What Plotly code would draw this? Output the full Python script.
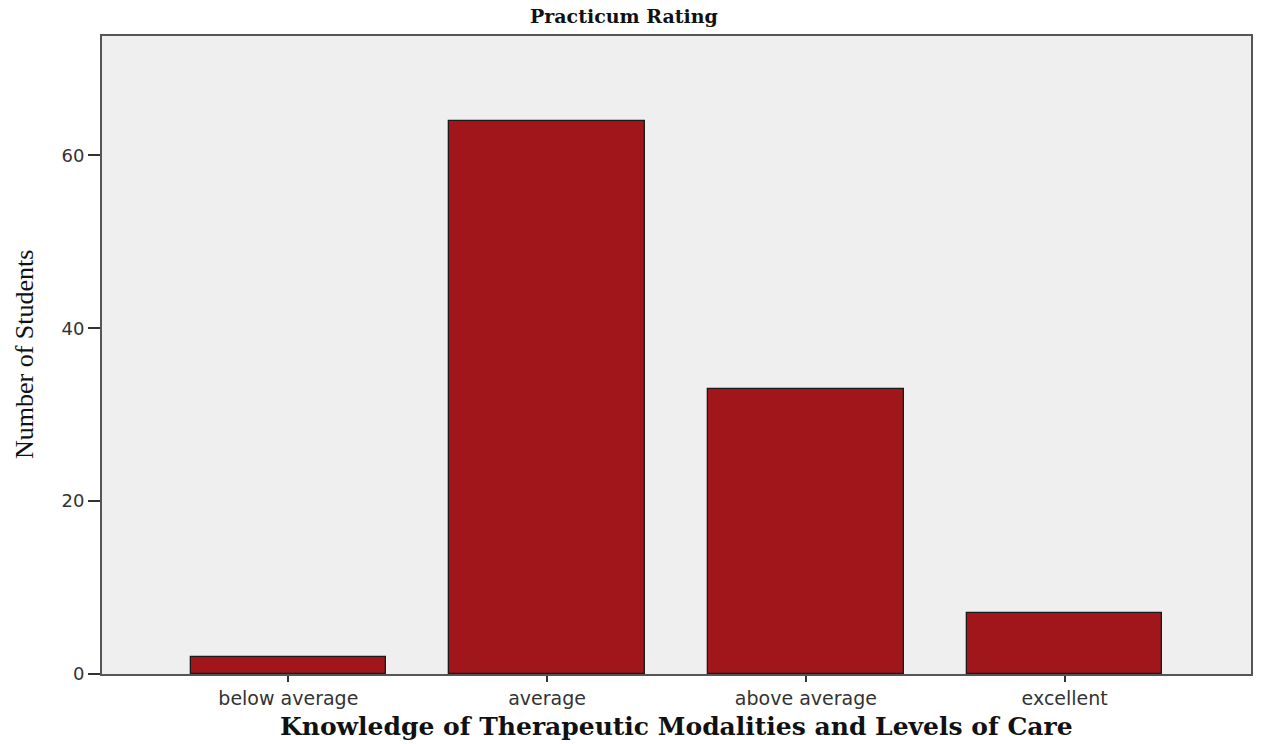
import plotly.graph_objects as go

categories = ["below average", "average", "above average", "excellent"]
counts = [2, 64, 33, 7]
y_ticks = [0, 20, 40, 60]

fig = go.Figure()
fig.add_trace(go.Bar(
    x=list(range(len(categories))),
    y=counts,
    width=0.755,
    marker=dict(color="#A0161B", line=dict(color="#1a1a1a", width=1.3)),
))

fig.update_layout(
    width=1261, height=744,
    margin=dict(l=102, r=8, t=36, b=70),
    paper_bgcolor="white",
    plot_bgcolor="#EFEFEF",
    showlegend=False,
    bargap=0,
    annotations=[
        dict(text="<b>Practicum Rating</b>", xref="paper", yref="paper",
             x=0.454, y=1, xanchor="center", yanchor="bottom", yshift=7,
             showarrow=False, font=dict(family="DejaVu Serif", size=19, color="#111")),
        dict(text="<b>Knowledge of Therapeutic Modalities and Levels of Care</b>",
             xref="paper", yref="paper", x=0.5, y=0, xanchor="center", yanchor="middle",
             yshift=-52, showarrow=False,
             font=dict(family="DejaVu Serif", size=25, color="#111")),
        dict(text="Number of Students", xref="paper", yref="paper", x=0, y=0.5,
             xanchor="center", yanchor="middle", xshift=-78, textangle=-90,
             showarrow=False, font=dict(family="Liberation Serif", size=26, color="#111")),
    ],
)

fig.update_xaxes(
    range=[-0.72, 3.72],
    tickmode="array", tickvals=list(range(len(categories))), ticktext=categories,
    ticks="outside", ticklen=6, tickwidth=2, tickcolor="#333",
    showline=True, linecolor="#555", linewidth=2, mirror=True,
    showgrid=False, zeroline=False,
    tickfont=dict(family="DejaVu Sans", size=19, color="#333"),
)
fig.update_yaxes(
    range=[0, 73.8],
    tickmode="array", tickvals=y_ticks,
    ticks="outside", ticklen=12, tickwidth=2, tickcolor="#333",
    showline=True, linecolor="#555", linewidth=2, mirror=True,
    showgrid=False, zeroline=False,
    tickfont=dict(family="DejaVu Sans", size=18, color="#333"),
)

fig.write_html(
    "out.html",
    config={"displayModeBar": False},
    post_script="document.body.style.margin='0';document.body.style.overflow='hidden';",
)
